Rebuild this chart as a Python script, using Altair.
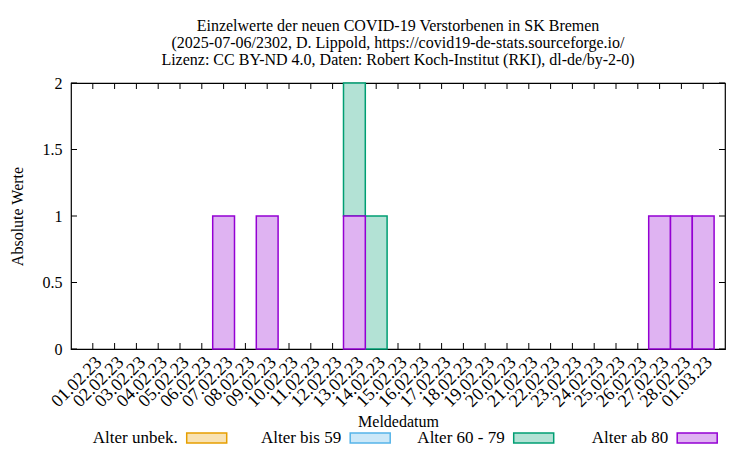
import altair as alt
import pandas as pd

FONT = "Liberation Serif"

dates = ["01.02.23", "02.02.23", "03.02.23", "04.02.23", "05.02.23", "06.02.23",
         "07.02.23", "08.02.23", "09.02.23", "10.02.23", "11.02.23", "12.02.23",
         "13.02.23", "14.02.23", "15.02.23", "16.02.23", "17.02.23", "18.02.23",
         "19.02.23", "20.02.23", "21.02.23", "22.02.23", "23.02.23", "24.02.23",
         "25.02.23", "26.02.23", "27.02.23", "28.02.23", "01.03.23"]
alter_unbek = [0, 0, 0, 0, 0, 0, 0, 0, 0, 0, 0, 0, 0, 0, 0, 0, 0, 0, 0, 0, 0, 0, 0, 0, 0, 0, 0, 0, 0]
alter_bis59 = [0, 0, 0, 0, 0, 0, 0, 0, 0, 0, 0, 0, 0, 0, 0, 0, 0, 0, 0, 0, 0, 0, 0, 0, 0, 0, 0, 0, 0]
alter_6079 = [0, 0, 0, 0, 0, 0, 0, 0, 0, 0, 0, 0, 1, 1, 0, 0, 0, 0, 0, 0, 0, 0, 0, 0, 0, 0, 0, 0, 0]
alter_ab80 = [0, 0, 0, 0, 0, 0, 1, 0, 1, 0, 0, 0, 1, 0, 0, 0, 0, 0, 0, 0, 0, 0, 0, 0, 0, 0, 1, 1, 1]

series = ["Alter unbek.", "Alter bis 59", "Alter 60 - 79", "Alter ab 80"]
stack_order = [3, 2, 1, 0]
stroke_colors = ["#e69f00", "#56b4e9", "#009e73", "#9400d3"]
fill_colors = ["#f8e2b3", "#cce8f8", "#b3e2d5", "#dfb3f2"]
y_ticks = [0, 0.5, 1, 1.5, 2]

title_lines = [
    "Einzelwerte der neuen COVID-19 Verstorbenen in SK Bremen",
    "(2025-07-06/2302, D. Lippold, https://covid19-de-stats.sourceforge.io/",
    "Lizenz: CC BY-ND 4.0, Daten: Robert Koch-Institut (RKI), dl-de/by-2-0)",
]

rows = []
for s, o, vals in zip(series, stack_order, [alter_unbek, alter_bis59, alter_6079, alter_ab80]):
    for d, v in zip(dates, vals):
        rows.append({"date": d, "series": s, "value": v, "ord": o})
df = pd.DataFrame(rows)

W, H = 654, 266
FS = 16

xsc = alt.Scale(domain=dates, paddingInner=0, paddingOuter=0.5)
ysc = alt.Scale(domain=[0, 2], nice=False, zero=True)

x_axis = alt.Axis(labelAngle=-45, ticks=False, domain=False, grid=False,
                  labelFontSize=18, labelPadding=4,
                  titleY=72, titleBaseline="middle",
                  title="Meldedatum")
y_axis = alt.Axis(values=y_ticks, format="~g", ticks=False, domain=False, grid=False,
                  labelFontSize=FS, labelPadding=9, titlePadding=17,
                  title="Absolute Werte")


def X(field):
    return alt.X(f"{field}:N", scale=xsc, axis=x_axis, title="Meldedatum")


def Y(field, **kw):
    return alt.Y(f"{field}:Q", scale=ysc, axis=y_axis, title="Absolute Werte", **kw)


fill_scale = alt.Scale(domain=series, range=fill_colors)
stroke_scale = alt.Scale(domain=series, range=stroke_colors)

tick_df = pd.DataFrame({"date": dates})
ytick_df = pd.DataFrame({"v": y_ticks})

xt_bottom = alt.Chart(tick_df).mark_rule(color="black", strokeWidth=1).encode(
    x=X("date"), y=alt.value(H), y2=alt.value(H - 6))
xt_top = alt.Chart(tick_df).mark_rule(color="black", strokeWidth=1).encode(
    x=X("date"), y=alt.value(0), y2=alt.value(6))
yt_left = alt.Chart(ytick_df).mark_rule(color="black", strokeWidth=1).encode(
    y=Y("v"), x=alt.value(0), x2=alt.value(6))
yt_right = alt.Chart(ytick_df).mark_rule(color="black", strokeWidth=1).encode(
    y=Y("v"), x=alt.value(W), x2=alt.value(W - 6))

bars = alt.Chart(df).transform_filter("datum.value > 0").mark_bar(strokeWidth=1.5).encode(
    x=X("date"),
    y=Y("value", stack="zero"),
    fill=alt.Fill("series:N", scale=fill_scale, legend=None),
    stroke=alt.Stroke("series:N", scale=stroke_scale, legend=None),
    order=alt.Order("ord:Q"),
)

main = alt.layer(xt_bottom, xt_top, yt_left, yt_right, bars).properties(
    width=W, height=H,
    title=alt.TitleParams(text=title_lines, fontSize=16, font=FONT, fontWeight="normal",
                          anchor="middle", frame="group", offset=7, lineHeight=17,
                          color="black"),
)

# legend row: laid out flush below the plot area, entries spread by their index
LEG_Y = 89
leg_df = pd.DataFrame({"series": series, "idx": [0, 1, 2, 3]})
leg_x = alt.X("idx:Q", scale=alt.Scale(domain=[-0.83, 3.17], nice=False, zero=False), axis=None)
swatch = alt.Chart(leg_df).mark_point(
    shape="M-1,-0.25L1,-0.25L1,0.25L-1,0.25Z", size=1600, filled=True,
    strokeWidth=1.5, opacity=1).encode(
    x=leg_x, y=alt.value(LEG_Y),
    fill=alt.Fill("series:N", scale=fill_scale, legend=None),
    stroke=alt.Stroke("series:N", scale=stroke_scale, legend=None),
)
leg_text = alt.Chart(leg_df).mark_text(align="right", baseline="middle", dx=-29,
                                       fontSize=17, font=FONT, color="black").encode(
    x=leg_x, y=alt.value(LEG_Y), text="series:N")
legend = alt.layer(swatch, leg_text).properties(
    width=W, height=10, view=alt.ViewBackground(stroke="transparent"))

chart = alt.vconcat(main, legend, spacing=0, bounds="flush").resolve_scale(
    x="independent", y="independent").properties(
    padding={"left": 0, "top": 9, "right": 0, "bottom": 0}
).configure_view(stroke="black", strokeWidth=1.2).configure_axis(
    labelFont=FONT, titleFont=FONT, labelColor="black", titleColor="black",
    titleFontWeight="normal", titleFontSize=FS
)

chart.save("out.html", embed_options={"renderer": "svg", "actions": False})
